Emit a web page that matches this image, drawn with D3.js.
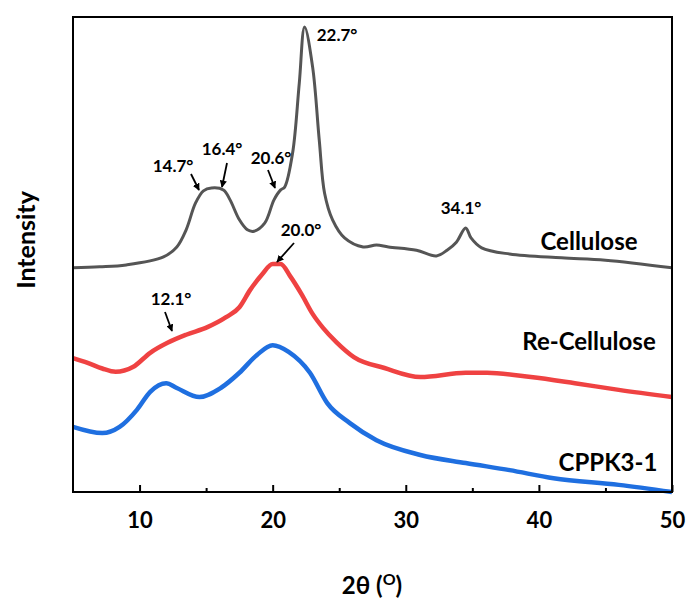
<!DOCTYPE html>
<html><head><meta charset="utf-8">
<script src="https://cdn.jsdelivr.net/npm/d3@7/dist/d3.min.js"></script>
<style>body{margin:0;background:#fff}</style>
</head><body>
<svg id="c" width="690" height="603"></svg>
<script>
const cellulose = [[5.0,47.2],[7.0,47.4],[9.0,47.8],[11.8,49.5],[12.8,51.6],[13.5,55.2],[14.2,60.8],[14.8,63.4],[15.4,64.0],[16.3,63.6],[16.8,61.5],[17.5,57.3],[18.1,55.2],[18.6,54.9],[19.4,56.6],[20.1,61.5],[20.6,63.6],[20.9,64.2],[21.5,71.4],[22.0,86.1],[22.4,97.9],[23.0,89.5],[23.5,74.1],[23.9,62.9],[24.5,57.3],[25.4,53.5],[26.8,51.6],[27.8,52.0],[28.7,51.6],[30.8,50.9],[32.3,49.7],[33.1,50.9],[33.8,52.6],[34.5,55.6],[34.9,53.5],[35.7,51.4],[37.8,50.1],[41.7,49.3],[45.0,48.8],[50.0,47.2]];
const reCellulose = [[5.0,28.2],[6.1,27.2],[7.2,26.0],[8.2,25.3],[9.5,26.3],[10.8,29.3],[12.1,31.4],[13.5,33.1],[15.1,34.7],[16.5,36.8],[17.5,38.9],[18.3,42.5],[19.2,45.8],[20.0,48.0],[20.6,48.0],[21.3,45.5],[22.2,41.5],[23.0,37.5],[23.8,34.5],[24.8,31.5],[26.1,28.4],[28.4,26.1],[31.1,24.2],[34.5,25.1],[36.1,25.1],[39.4,24.2],[42.7,22.9],[46.0,21.5],[50.0,20.0]];
const cppk = [[5.0,13.7],[7.2,12.4],[8.5,13.7],[9.8,17.3],[10.8,21.1],[12.0,22.9],[12.8,21.9],[14.5,20.0],[16.1,21.9],[17.5,25.1],[18.8,28.8],[20.0,30.9],[21.2,29.5],[22.8,25.1],[24.1,18.7],[25.8,14.5],[27.8,10.9],[31.1,7.8],[34.5,6.1],[37.8,4.6],[41.1,2.9],[46.0,1.5],[50.0,0.0]];
const majorTicks = [10,20,30,40,50];
const minorTicks = [15,25,35,45];
const seriesNames = ["Cellulose","Re-Cellulose","CPPK3-1"];
const peakLabels = ["22.7°","14.7°","16.4°","20.6°","20.0°","34.1°","12.1°"];

const svg = d3.select("#c");
const L=73, R=672, T=17, B=492;
const x = d3.scaleLinear().domain([5,50]).range([L,R]);
const y = d3.scaleLinear().domain([0,100]).range([B,T]);
const font = "Lato, 'Open Sans', sans-serif";

const lineC = d3.line().x(d=>x(d[0])).y(d=>y(d[1])).curve(d3.curveCatmullRom.alpha(0.5));
const lineM = d3.line().x(d=>x(d[0])).y(d=>y(d[1])).curve(d3.curveMonotoneX);
const data = [cellulose, reCellulose, cppk];
const colors = ["#555555","#ef4242","#1f6fe0"];
const widths = [3, 4.5, 4.5];
data.forEach((d,i)=>{
  svg.append("path").attr("d", (i===0?lineC:lineM)(d)).attr("fill","none")
    .attr("stroke", colors[i]).attr("stroke-width", widths[i]).attr("stroke-linejoin","round");
});

// frame
svg.append("rect").attr("x",L).attr("y",T).attr("width",R-L).attr("height",B-T)
  .attr("fill","none").attr("stroke","#000").attr("stroke-width",2);

// axis
const ax = svg.append("g").attr("transform",`translate(0,${B})`)
  .call(d3.axisBottom(x).tickValues(majorTicks).tickSize(-7).tickPadding(20).tickFormat(d3.format("d")));
ax.select(".domain").remove();
ax.selectAll(".tick line").attr("stroke-width",2);
ax.selectAll("text").attr("font-family",font).attr("font-weight","bold").attr("font-size",22).attr("fill","#000");
const ax2 = svg.append("g").attr("transform",`translate(0,${B})`)
  .call(d3.axisBottom(x).tickValues(minorTicks).tickSize(-4).tickFormat(""));
ax2.select(".domain").remove();
ax2.selectAll(".tick line").attr("stroke-width",2);

// axis titles
const xt = svg.append("text").attr("x",372).attr("y",594).attr("text-anchor","middle")
  .attr("font-family",font).attr("font-weight","bold").attr("font-size",24);
xt.append("tspan").text("2θ (");
xt.append("tspan").attr("dy",-9).attr("font-size",16).text("O");
xt.append("tspan").attr("dy",9).text(")");
svg.append("text").attr("transform","translate(35,240) rotate(-90)").attr("text-anchor","middle")
  .attr("font-family",font).attr("font-weight","bold").attr("font-size",25).text("Intensity");

// series labels
const sl = [[589,250],[589,350],[608,471]];
seriesNames.forEach((n,i)=>{
  svg.append("text").attr("x",sl[i][0]).attr("y",sl[i][1]).attr("text-anchor","middle")
    .attr("font-family",font).attr("font-weight","bold").attr("font-size",24).attr("fill","#000").text(n);
});

// peak labels with arrows (offsets in px)
const lab = [
  {tx:337, ty:41, arrow:null},
  {tx:173, ty:172, arrow:[[191,174],[199,190]]},
  {tx:222, ty:155, arrow:[[227,163],[222,187]]},
  {tx:271, ty:164, arrow:[[268,170],[275,188]]},
  {tx:301, ty:236, arrow:[[294,243],[277,262]]},
  {tx:461, ty:214, arrow:null},
  {tx:171, ty:305, arrow:[[165,312],[172,331]]}
];
svg.append("defs").append("marker").attr("id","ah").attr("viewBox","0 0 10 10")
  .attr("refX",9).attr("refY",5).attr("markerWidth",4).attr("markerHeight",4).attr("orient","auto")
  .append("path").attr("d","M0,0L10,5L0,10z").attr("fill","#000");
peakLabels.forEach((t,i)=>{
  const l = lab[i];
  svg.append("text").attr("x",l.tx).attr("y",l.ty).attr("text-anchor","middle")
    .attr("font-family",font).attr("font-weight","bold").attr("font-size",17).text(t);
  if(l.arrow){
    svg.append("line").attr("x1",l.arrow[0][0]).attr("y1",l.arrow[0][1])
      .attr("x2",l.arrow[1][0]).attr("y2",l.arrow[1][1])
      .attr("stroke","#000").attr("stroke-width",1.8).attr("marker-end","url(#ah)");
  }
});
</script>
</body></html>
